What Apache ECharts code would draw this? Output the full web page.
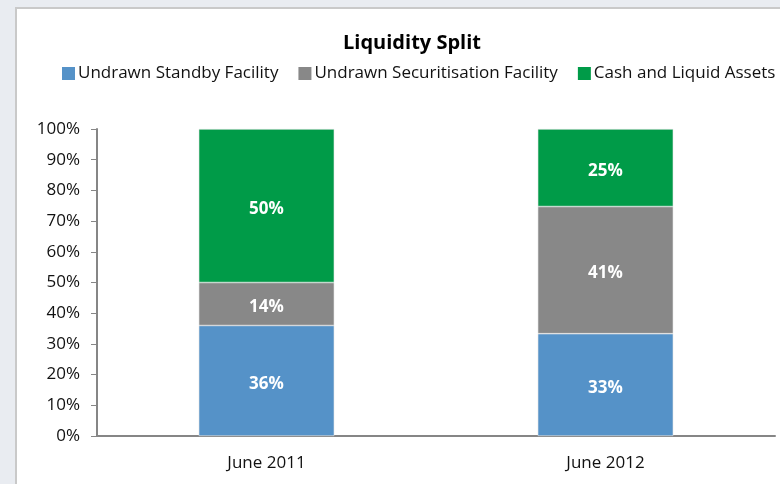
<!DOCTYPE html>
<html>
<head>
<meta charset="utf-8">
<script src="https://cdn.jsdelivr.net/npm/echarts@6/dist/echarts.min.js"></script>
<style>
  html, body { margin: 0; padding: 0; background: #e9ecf1; }
  #panel {
    position: absolute; left: 15px; top: 7px;
    width: 763px; height: 475px;
    background: #fff;
    border-left: 2px solid #c9c9c9;
    border-top: 2px solid #c9c9c9;
  }
  #main { width: 763px; height: 475px; }
</style>
</head>
<body>
<div id="panel"><div id="main"></div></div>
<script>
// data
var categories = ["June 2011", "June 2012"];
var standby = [36, 33];
var securitisation = [14, 41];
var cash = [50, 25];
var seriesNames = ["Undrawn Standby Facility", "Undrawn Securitisation Facility", "Cash and Liquid Assets"];
var seriesColors = ["#5592c8", "#888888", "#009b48"];

// 100% stacked: each column scaled to its own total
var raw = [standby, securitisation, cash];
var totals = categories.map(function (c, i) {
  return standby[i] + securitisation[i] + cash[i];
});

var font = "'Open Sans', sans-serif";

var series = raw.map(function (vals, k) {
  return {
    name: seriesNames[k],
    type: "bar",
    stack: "total",
    barWidth: "40%",
    itemStyle: { color: seriesColors[k], borderColor: "#e6e6e6", borderWidth: 0.6 },
    label: {
      show: true,
      color: "#fff",
      fontWeight: "bold",
      fontSize: 17,
      fontFamily: font,
      offset: [0, 3],
      formatter: function (p) { return vals[p.dataIndex] + "%"; }
    },
    data: vals.map(function (v, i) { return v / totals[i] * 100; })
  };
});

var myChart = echarts.init(document.getElementById("main"));
var option = {
  animation: false,
  title: {
    text: "Liquidity Split",
    left: 390, top: 19, textAlign: "center",
    textStyle: { fontSize: 20, fontWeight: "bold", color: "#000", fontFamily: font }
  },
  legend: {
    top: 56, left: 45, width: 760,
    padding: 0,
    itemWidth: 13, itemHeight: 13, itemGap: 20,
    icon: "rect",
    itemStyle: { borderWidth: 0 },
    textStyle: { fontSize: 17, color: "#111", fontFamily: font, padding: [0, 0, 0, -2] },
    data: seriesNames
  },
  grid: { left: 80, top: 120, width: 678, height: 307 },
  xAxis: {
    type: "category",
    data: categories,
    axisLine: { lineStyle: { color: "#868686", width: 2 } },
    axisTick: { show: false },
    axisLabel: { fontSize: 17, color: "#111", fontFamily: font, margin: 19 }
  },
  yAxis: {
    type: "value",
    min: 0, max: 100, interval: 10,
    axisLine: { show: true, lineStyle: { color: "#868686", width: 2 } },
    axisTick: { show: true, length: 6, lineStyle: { color: "#868686" } },
    splitLine: { show: false },
    axisLabel: { fontSize: 17, color: "#111", fontFamily: font, margin: 17,
      formatter: "{value}%" }
  },
  series: series
};
myChart.setOption(option);
</script>
</body>
</html>
